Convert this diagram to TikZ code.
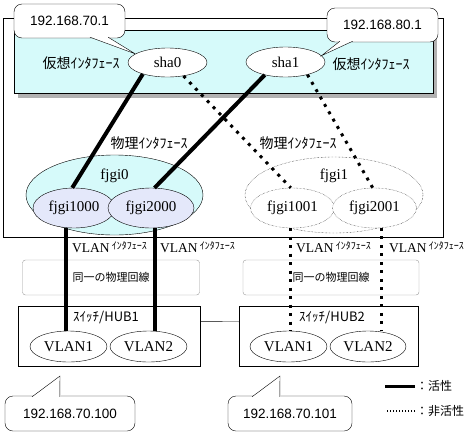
\documentclass[tikz,border=0pt]{standalone}
\usepackage{fontspec}
\setmainfont{Liberation Serif}
\newfontfamily\jpfont{Noto Sans CJK JP}
\newfontfamily\ipfont{Liberation Sans}
\usetikzlibrary{shapes.geometric}
\definecolor{vcyan}{RGB}{214,250,250}
\definecolor{vlav}{RGB}{228,232,250}
\newcommand\vlanifc{VLAN\,\raisebox{2.5pt}{\jpfont\fontsize{10}{10}\selectfont ｲﾝﾀﾌｪｰｽ}}
\begin{document}
\begin{tikzpicture}[x=1pt,y=-1pt,
	ifc/.style={shape=ellipse,draw,inner sep=0pt,font=\fontsize{15}{15}\selectfont},
	balloon/.style={draw,fill=white,rounded corners=8pt,inner sep=0pt,font=\ipfont\fontsize{13.5}{13.5}\selectfont},
	jp/.style={inner sep=1pt,font=\jpfont\fontsize{14}{14}\selectfont},
	vlanlbl/.style={anchor=west,inner sep=0pt,font=\fontsize{13.5}{13.5}\selectfont},
	wire/.style={draw=black!40,rounded corners=3pt,minimum width=177pt,minimum height=35pt,inner sep=0pt,font=\jpfont\fontsize{11}{11}\selectfont},
	hub/.style={draw,minimum height=60pt,inner sep=0pt},
	act/.style={line width=4pt},
	stby/.style={dash pattern=on 3pt off 5.5pt,line width=3pt}]
		\useasboundingbox (0,0) rectangle (473,434);

		% host and virtual interface area
		\draw (3,18) rectangle (443,237);
		\fill[gray!60] (18,35) rectangle (437,98);
		\draw[fill=vcyan] (14,30) rectangle (433,93);
		\node[jp] (vlbl0) at (81,63) {仮想ｲﾝﾀﾌｪｰｽ};
		\node[jp] (vlbl1) at (371,64) {仮想ｲﾝﾀﾌｪｰｽ};
		\node[ifc,fill=white,minimum width=79pt,minimum height=29pt] (sha0) at (167.5,62.5) {sha0};
		\node[ifc,fill=white,minimum width=79pt,minimum height=30pt] (sha1) at (285.5,62) {sha1};
		\node[jp] (plbl0) at (149,143) {物理ｲﾝﾀﾌｪｰｽ};
		\node[jp] (plbl1) at (298,143) {物理ｲﾝﾀﾌｪｰｽ};

		% physical interfaces
		\node[ifc,fill=vcyan,minimum width=177pt,minimum height=80pt,label={[anchor=north,label distance=-11pt,font=\fontsize{15}{15}\selectfont]90:fjgi0}] (fjgi0) at (114.5,195) {};
		\node[ifc,densely dotted,fill=white,minimum width=178pt,minimum height=76pt,label={[anchor=north,label distance=-9pt,font=\fontsize{15}{15}\selectfont]90:fjgi1}] (fjgi1) at (334,195) {};
		\node[ifc,fill=vlav,minimum width=82pt,minimum height=40pt] (fjgi1000) at (74,208) {fjgi1000};
		\node[ifc,fill=vlav,minimum width=86pt,minimum height=40pt] (fjgi2000) at (151,208) {fjgi2000};
		\node[ifc,densely dotted,fill=white,minimum width=84pt,minimum height=40pt] (fjgi1001) at (292.5,208) {fjgi1001};
		\node[ifc,densely dotted,fill=white,minimum width=84pt,minimum height=40pt] (fjgi2001) at (374.5,208) {fjgi2001};

		\node[vlanlbl] (vif1000) at (72,247) {\vlanifc};
		\node[vlanlbl] (vif2000) at (160,247) {\vlanifc};
		\node[vlanlbl] (vif1001) at (296,247) {\vlanifc};
		\node[vlanlbl] (vif2001) at (389,247) {\vlanifc};

		% lines and switches
		\node[wire] (lineA) at (111,277.5) {同一の物理回線};
		\node[wire,minimum width=176pt] (lineB) at (331,277.5) {同一の物理回線};
		\node[hub,minimum width=182pt] (hub1) at (109,336) {};
		\node[hub,minimum width=179pt] (hub2) at (328.5,336) {};
		\draw (hub1.9) -- (hub2.171);
		\node[jp,anchor=west,font=\jpfont\fontsize{13}{13}\selectfont] (hub1lbl) at (72,317) {ｽｲｯﾁ/HUB1};
		\node[jp,anchor=west,font=\jpfont\fontsize{13}{13}\selectfont] (hub2lbl) at (298,317) {ｽｲｯﾁ/HUB2};
		\node[ifc,minimum width=77pt,minimum height=31pt] (vlanA1) at (68.5,346.5) {VLAN1};
		\node[ifc,minimum width=77pt,minimum height=31pt] (vlanA2) at (148.5,346.5) {VLAN2};
		\node[ifc,minimum width=77pt,minimum height=31pt] (vlanB1) at (288.5,346.5) {VLAN1};
		\node[ifc,minimum width=76pt,minimum height=31pt] (vlanB2) at (368,346.5) {VLAN2};

		% connections
		\draw[act] (sha0.205) -- (fjgi1000.95);
		\draw[act] (sha1.212) -- (fjgi2000.80);
		\draw[stby] (sha0.320) -- (fjgi1001.95);
		\draw[stby] (sha1.330) -- (fjgi2001.95);
		\draw[act] (fjgi1000.247) -- (fjgi1000.247 |- vlanA1.north);
		\draw[act] (fjgi2000.280) -- (fjgi2000.280 |- vlanA2.north);
		\draw[stby] (fjgi1001.263) -- (fjgi1001.263 |- vlanB1.north);
		\draw[stby] (fjgi2001.290) -- (fjgi2001.290 |- vlanB2.north);

		% address balloons
		\node[balloon,minimum width=111pt,minimum height=34pt] (ip1) at (69.5,21) {192.168.70.1};
		\draw[fill=white] ([yshift=1pt]ip1.-40) -- (sha0.165) -- ([yshift=1pt]ip1.-24);
		\node[balloon,minimum width=111pt,minimum height=34pt] (ip2) at (382.5,25) {192.168.80.1};
		\draw[fill=white] ([yshift=1pt]ip2.-158) -- (sha1.10) -- ([yshift=1pt]ip2.-150);
		\coordinate (tip3) at (60,376);
		\coordinate (tip4) at (280,376);
		\node[balloon,minimum width=130pt,minimum height=35pt] (ip3) at (70,413.5) {192.168.70.100};
		\draw[fill=white] ([yshift=-1pt]ip3.155) -- (tip3) -- ([yshift=-1pt]ip3.120);
		\node[balloon,minimum width=124pt,minimum height=35pt] (ip4) at (290,413.5) {192.168.70.101};
		\draw[fill=white] ([yshift=-1pt]ip4.155) -- (tip4) -- ([yshift=-1pt]ip4.120);

		% legend
		\node[jp,anchor=west,font=\jpfont\fontsize{12}{12}\selectfont] (legon) at (415,386) {：活性};
		\node[jp,anchor=west,font=\jpfont\fontsize{12}{12}\selectfont] (legoff) at (415,411) {：非活性};
		\draw[line width=3pt] (legon.west) -- +(-30,0);
		\draw[dash pattern=on 1.5pt off 1.5pt,line width=1.5pt] (legoff.west) -- +(-30,0);
\end{tikzpicture}
\end{document}
